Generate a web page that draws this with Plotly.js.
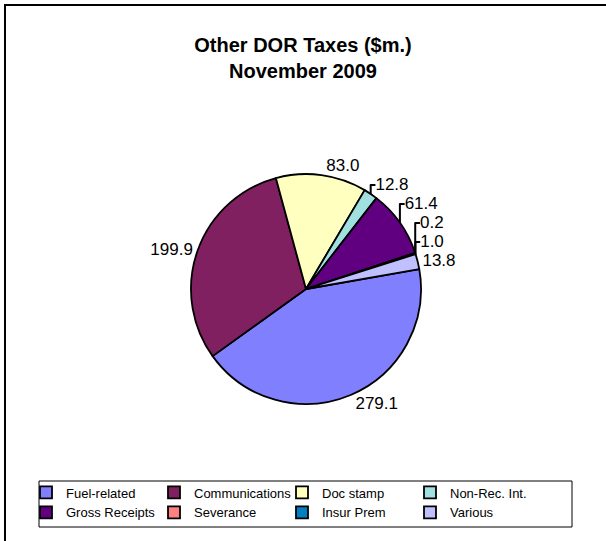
<!DOCTYPE html>
<html>
<head>
<meta charset="utf-8">
<script src="https://cdn.plot.ly/plotly-3.0.1.min.js"></script>
<style>
  html, body { margin: 0; padding: 0; background: #fff; }
  #wrap { position: relative; width: 606px; height: 541px; overflow: hidden; }
  #chart { width: 606px; height: 541px; }
  #frame { position: absolute; left: 4px; top: 4px; width: 800px; height: 800px;
           border-left: 2px solid #000; border-top: 2px solid #000; pointer-events: none; }
</style>
</head>
<body>
<div id="wrap"><div id="chart"></div><div id="frame"></div></div>
<script>
const categories = ['Fuel-related', 'Communications', 'Doc stamp', 'Non-Rec. Int.',
                    'Gross Receipts', 'Severance', 'Insur Prem', 'Various'];
const values = [279.1, 199.9, 83.0, 12.8, 61.4, 0.2, 1.0, 13.8];
const colors = ['#8080FF', '#802060', '#FFFFC0', '#A0E0E0',
                '#600080', '#FF8080', '#0080C0', '#C0C0FF'];
const titleLines = ['Other DOR Taxes ($m.)', 'November 2009'];

const W = 606, H = 541;
const cx = 306, cy = 289, R = 115;
const FONT = 'Liberation Sans, Arial, sans-serif';

const trace = {
  type: 'pie',
  labels: categories,
  values: values,
  sort: false,
  direction: 'clockwise',
  rotation: 80,
  marker: { colors: colors, line: { color: '#000', width: 1.8 } },
  texttemplate: '%{value:.1f}',
  textposition: 'outside',
  textfont: { family: FONT, size: 17, color: '#000' },
  hoverinfo: 'label+value',
  domain: { x: [(cx - R) / W, (cx + R) / W], y: [(H - cy - R) / H, (H - cy + R) / H] }
};

// legend frame box (pixels -> paper, margins are zero)
const box = { l: 39, r: 572, t: 481, b: 527 };

const layout = {
  width: W, height: H,
  margin: { l: 0, r: 0, t: 0, b: 0 },
  paper_bgcolor: '#fff',
  font: { family: FONT, color: '#000' },
  title: {
    text: '<b>' + titleLines.join('<br>') + '</b>',
    font: { family: FONT, size: 20, color: '#000' },
    x: 0.5, xref: 'container', xanchor: 'center',
    y: 1 - 52 / H, yref: 'container', yanchor: 'top'
  },
  shapes: [{
    type: 'rect', xref: 'paper', yref: 'paper', layer: 'below',
    x0: box.l / W, x1: box.r / W, y0: (H - box.b) / H, y1: (H - box.t) / H,
    line: { color: '#000', width: 1 }, fillcolor: 'rgba(0,0,0,0)'
  }],
  showlegend: true,
  legend: {
    orientation: 'h',
    x: 26 / W, xanchor: 'left',
    y: (H - 477.5) / H, yanchor: 'top',
    borderwidth: 0,
    bgcolor: 'rgba(0,0,0,0)',
    font: { family: FONT, size: 13, color: '#000' },
    itemwidth: 30,
    entrywidth: 83, entrywidthmode: 'pixels',
    traceorder: 'normal'
  }
};

Plotly.newPlot('chart', [trace], layout, { displayModeBar: false, staticPlot: true });
</script>
</body>
</html>
